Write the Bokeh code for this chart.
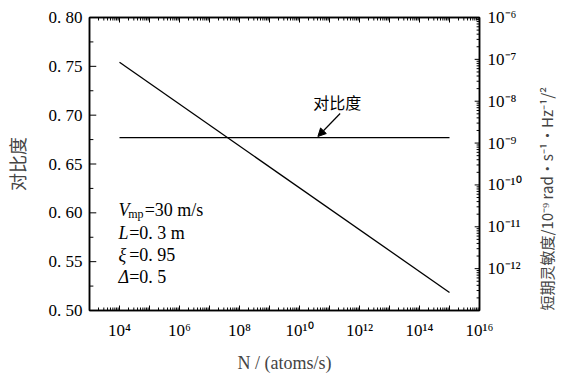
import math
from bokeh.plotting import figure
from bokeh.models import (Range1d, LogScale, LogAxis, FixedTicker, ColumnDataSource,
                          CustomJSTickFormatter, Label, Arrow, NormalHead)
from bokeh.embed import file_html
from bokeh.resources import INLINE

# ---------------- data ----------------
N_flux = [1e4, 1e15]                 # atoms/s
contrast = [0.677, 0.677]            # 对比度 (left axis)
sensitivity = [8.5e-8, 2.7e-13]      # 短期灵敏度 (right axis)

y_ticks = [0.50, 0.55, 0.60, 0.65, 0.70, 0.75, 0.80]
y_tick_labels = ["0. 50", "0. 55", "0. 60", "0. 65", "0. 70", "0. 75", "0. 80"]
y_minor = [0.525, 0.575, 0.625, 0.675, 0.725, 0.775]

x_ticks = [1e4, 1e6, 1e8, 1e10, 1e12, 1e14, 1e16]
x_tick_labels = ["10⁴", "10⁶", "10⁸", "10¹⁰", "10¹²", "10¹⁴", "10¹⁶"]

r_ticks = [1e-6, 1e-7, 1e-8, 1e-9, 1e-10, 1e-11, 1e-12]
r_tick_labels = ["10⁻⁶", "10⁻⁷", "10⁻⁸", "10⁻⁹", "10⁻¹⁰", "10⁻¹¹", "10⁻¹²"]

param_symbols = ["V", "L", "ξ", "Δ"]
param_values = ["=30 m/s", "=0. 3 m", "=0. 95", "=0. 5"]

# ---------------- layout helpers (pixel -> data) ----------------
FL, FR, FT, FB = 87, 490, 17, 310
XLO, XHI = 3.0, 16.0
YLO, YHI = 0.5, 0.8
RLO, RHI = 1e-13, 1e-6


def xd(px):
    return 10.0 ** (XLO + (px - FL) * (XHI - XLO) / (FR - FL))


def yd(py):
    return YHI - (py - FT) * (YHI - YLO) / (FB - FT)


def decade_ticks(lo, hi):
    major = [10.0 ** k for k in range(lo, hi + 1)]
    minor = [m * 10.0 ** k for k in range(lo, hi) for m in range(2, 10)]
    return major, minor


LOG_FMT = """
const lt = Math.log10(tick);
for (let i = 0; i < tv.length; i++) {
  if (Math.abs(Math.log10(tv[i]) - lt) < 1e-6) return tl[i];
}
return "";
"""
LIN_FMT = """
for (let i = 0; i < tv.length; i++) {
  if (Math.abs(tv[i] - tick) < 1e-9) return tl[i];
}
return "";
"""

p = figure(width=570, height=380, x_axis_type="log",
           x_range=Range1d(10.0 ** XLO, 10.0 ** XHI), y_range=Range1d(YLO, YHI),
           output_backend="svg", toolbar_location=None,
           min_border_left=FL, min_border_right=570 - FR,
           min_border_top=FT, min_border_bottom=380 - FB)
p.extra_y_ranges = {"right": Range1d(RLO, RHI)}
p.extra_y_scales = {"right": LogScale()}
p.grid.visible = False
p.outline_line_color = "black"
p.outline_line_width = 1.5
p.background_fill_color = "white"
p.border_fill_color = "white"

CJK = "Noto Sans CJK SC"
SERIF = "Liberation Serif"


def style_axis(ax):
    ax.axis_line_color = "black"
    ax.axis_line_width = 1.5
    ax.major_tick_in = 0
    ax.major_tick_out = 0
    ax.minor_tick_in = 0
    ax.minor_tick_out = 0
    ax.major_label_text_font = SERIF
    ax.major_label_text_font_style = "normal"
    ax.major_label_text_font_size = "17px"
    ax.major_label_text_color = "black"


xmaj, xmin = decade_ticks(3, 16)
rmaj, rmin = decade_ticks(-13, -6)

# bottom x
bx = p.xaxis[0]
bx.ticker = FixedTicker(ticks=xmaj, minor_ticks=xmin)
bx.formatter = CustomJSTickFormatter(args=dict(tv=x_ticks, tl=x_tick_labels), code=LOG_FMT)
style_axis(bx)
bx.major_label_standoff = 10
bx.axis_label = "N / (atoms/s)"
bx.axis_label_text_font = SERIF
bx.axis_label_text_font_style = "normal"
bx.axis_label_text_font_size = "18px"
bx.axis_label_standoff = 10

# left y
ly = p.yaxis[0]
ly.ticker = FixedTicker(ticks=y_ticks, minor_ticks=y_minor)
ly.formatter = CustomJSTickFormatter(args=dict(tv=y_ticks, tl=y_tick_labels), code=LIN_FMT)
style_axis(ly)
ly.major_label_standoff = 7
ly.axis_label = "对比度"
ly.axis_label_text_font = CJK
ly.axis_label_text_font_style = "normal"
ly.axis_label_text_font_size = "18px"
ly.axis_label_standoff = 16

# top x (mirror)
tx = LogAxis(ticker=FixedTicker(ticks=xmaj, minor_ticks=xmin))
tx.formatter = CustomJSTickFormatter(code='return "";')
style_axis(tx)
tx.major_label_text_font_size = "0px"
p.add_layout(tx, "above")

# right y (log)
ry = LogAxis(y_range_name="right", ticker=FixedTicker(ticks=rmaj, minor_ticks=rmin))
ry.formatter = CustomJSTickFormatter(args=dict(tv=r_ticks, tl=r_tick_labels), code=LOG_FMT)
style_axis(ry)
ry.major_label_standoff = 8
ry.axis_label = "短期灵敏度/10⁻⁹ rad·s⁻¹·Hz⁻¹/²"
ry.axis_label_text_font = CJK
ry.axis_label_text_font_style = "normal"
ry.axis_label_text_font_size = "15px"
ry.axis_label_standoff = 22
ry.axis_label_orientation = math.pi / 2
try:
    ry.axis_label_align = "start"
except Exception:
    pass
p.add_layout(ry, "right")

# inward tick marks, drawn from the tick arrays through the plot scales
PX_Y = (YHI - YLO) / (FB - FT)


def xtick_src(vals, length):
    return ColumnDataSource(dict(
        x=vals,
        yb0=[YLO] * len(vals), yb1=[YLO + length * PX_Y] * len(vals),
        yt0=[YHI] * len(vals), yt1=[YHI - length * PX_Y] * len(vals)))


for vals, length in ((xmaj, 5), (xmin, 3)):
    s = xtick_src(vals, length)
    p.segment(x0="x", y0="yb0", x1="x", y1="yb1", source=s, line_color="black", line_width=1)
    p.segment(x0="x", y0="yt0", x1="x", y1="yt1", source=s, line_color="black", line_width=1)

for vals, length in ((y_ticks, 7), (y_minor, 4)):
    s = ColumnDataSource(dict(y=vals, x0=[10.0 ** XLO] * len(vals),
                              x1=[xd(FL + length)] * len(vals)))
    p.segment(x0="x0", y0="y", x1="x1", y1="y", source=s, line_color="black", line_width=1)

for vals, length in ((rmaj, 5), (rmin, 3)):
    s = ColumnDataSource(dict(y=vals, x0=[10.0 ** XHI] * len(vals),
                              x1=[xd(FR - length)] * len(vals)))
    p.segment(x0="x0", y0="y", x1="x1", y1="y", source=s, y_range_name="right",
              line_color="black", line_width=1)

# data lines
p.line(N_flux, contrast, line_color="black", line_width=1.3)
p.line(N_flux, sensitivity, y_range_name="right", line_color="black", line_width=1.3)

# contrast annotation + arrow
p.add_layout(Label(x=xd(343), y=yd(101), text="对比度", text_align="center",
                   text_baseline="middle", text_font=CJK, text_font_size="16px",
                   text_color="black"))
p.add_layout(Arrow(x_start=xd(346), y_start=yd(113), x_end=xd(323), y_end=yd(136),
                   line_color="black", line_width=1.2,
                   end=NormalHead(size=8, fill_color="black", line_color="black")))

# parameter block
rows_y = [209, 232, 254, 276]
sym_x = 117
for i, (sym, val) in enumerate(zip(param_symbols, param_values)):
    py = rows_y[i]
    p.add_layout(Label(x=xd(sym_x), y=yd(py), text=sym, text_align="left",
                       text_baseline="middle", text_font=SERIF,
                       text_font_style="italic", text_font_size="18px",
                       text_color="black"))
    if i == 0:
        p.add_layout(Label(x=xd(sym_x + 10), y=yd(py + 4), text="mp",
                           text_align="left", text_baseline="middle",
                           text_font=SERIF, text_font_size="12px",
                           text_color="black"))
        vx = sym_x + 27
    else:
        vx = sym_x + 11
    p.add_layout(Label(x=xd(vx), y=yd(py), text=val, text_align="left",
                       text_baseline="middle", text_font=SERIF,
                       text_font_size="18px", text_color="black"))

open("out.html", "w").write(file_html(p, INLINE))
